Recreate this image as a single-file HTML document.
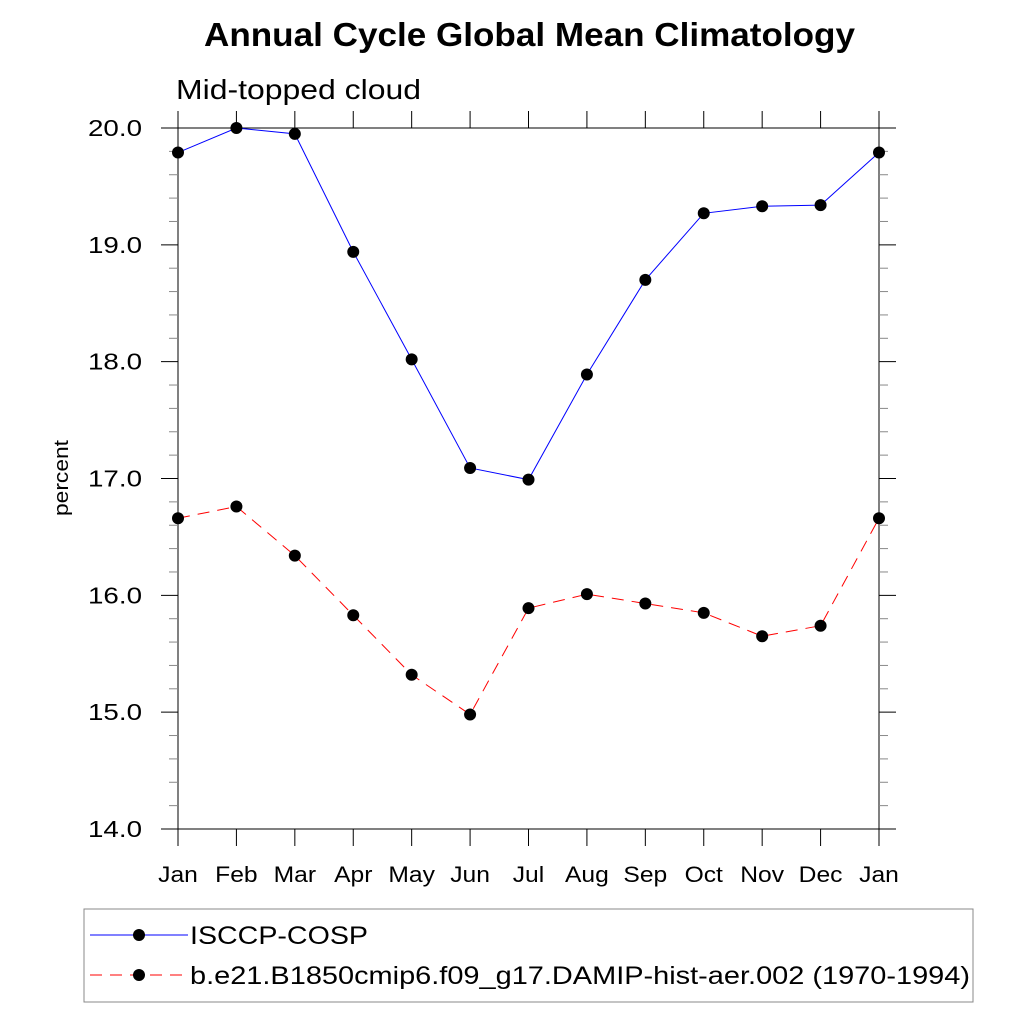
<!DOCTYPE html>
<html><head><meta charset="utf-8"><style>body{margin:0;background:#fff}svg{display:block}text{font-family:"Liberation Sans",sans-serif}</style></head>
<body>
<svg id="c" width="1024" height="1024" xmlns="http://www.w3.org/2000/svg">
<text x="204" y="46" font-size="33" font-weight="bold" textLength="651" lengthAdjust="spacingAndGlyphs">Annual Cycle Global Mean Climatology</text>
<text x="176" y="99" font-size="28" textLength="245" lengthAdjust="spacingAndGlyphs">Mid-topped cloud</text>
<text transform="translate(68,478) rotate(-90)" font-size="20" text-anchor="middle" textLength="76" lengthAdjust="spacingAndGlyphs">percent</text>
<g id="axes"></g><g id="series"></g>
<g>
<rect x="84" y="909" width="889" height="93" fill="none" stroke="#888" stroke-width="1"/>
<line x1="90" y1="935" x2="188" y2="935" stroke="#0000ff" stroke-width="1"/>
<circle cx="139" cy="935" r="6" fill="#000"/>
<text x="190" y="944" font-size="25" textLength="178" lengthAdjust="spacingAndGlyphs">ISCCP-COSP</text>
<line x1="90" y1="975" x2="188" y2="975" stroke="#ff0000" stroke-width="1" stroke-dasharray="12,8"/>
<circle cx="139" cy="975" r="6" fill="#000"/>
<text x="190" y="984" font-size="25" textLength="780" lengthAdjust="spacingAndGlyphs">b.e21.B1850cmip6.f09_g17.DAMIP-hist-aer.002 (1970-1994)</text>
</g>
</svg>
<script>
const months=["Jan","Feb","Mar","Apr","May","Jun","Jul","Aug","Sep","Oct","Nov","Dec","Jan"];
const isccp=[19.79,20.0,19.95,18.94,18.02,17.09,16.99,17.89,18.70,19.27,19.33,19.34,19.79];
const model=[16.66,16.76,16.34,15.83,15.32,14.98,15.89,16.01,15.93,15.85,15.65,15.74,16.66];
const yTicks=[14,15,16,17,18,19,20];
const NS="http://www.w3.org/2000/svg";
const L=178,R=879,T=128,B=829,ymin=14,ymax=20;
const xs=i=>L+(R-L)*i/(months.length-1);
const ys=v=>B-(v-ymin)/(ymax-ymin)*(B-T);
function mk(tag,a,p){const e=document.createElementNS(NS,tag);for(const k in a)e.setAttribute(k,a[k]);p.appendChild(e);return e;}
const ax=document.getElementById('axes');
mk('rect',{x:L,y:T,width:R-L,height:B-T,fill:'none',stroke:'#000','stroke-width':1},ax);
for(let v=ymin;v<=ymax+1e-9;v+=0.2){const y=ys(v);const maj=Math.abs(v-Math.round(v))<1e-6;const len=maj?17:9;
 const c=maj?'#000':'#888';
 mk('line',{x1:L-len,y1:y,x2:L,y2:y,stroke:c},ax);mk('line',{x1:R,y1:y,x2:R+len,y2:y,stroke:c},ax);}
yTicks.forEach(v=>{const t=mk('text',{x:142,y:ys(v)+8,'font-size':23,'text-anchor':'end',textLength:54,lengthAdjust:'spacingAndGlyphs'},ax);t.textContent=v.toFixed(1);
 
 });
months.forEach((m,i)=>{const x=xs(i);
 mk('line',{x1:x,y1:T-17,x2:x,y2:T,stroke:'#000'},ax);mk('line',{x1:x,y1:B,x2:x,y2:B+17,stroke:'#000'},ax);
 const t=mk('text',{x:x,y:B+53,'font-size':22,'text-anchor':'middle',transform:`translate(${x},0) scale(1.12,1) translate(${-x},0)`},ax);t.textContent=m;
 
 });
const sg=document.getElementById('series');
function series(d,col,dash,name){const p=mk('polyline',{points:d.map((v,i)=>xs(i)+','+ys(v)).join(' '),fill:'none',stroke:col,'stroke-width':1,'stroke-dasharray':dash},sg);
 
 
 d.forEach((v,i)=>{const c=mk('circle',{cx:xs(i),cy:ys(v),r:6,fill:'#000'},sg);
 
 });}
series(isccp,'#0000ff','none','isccp');
series(model,'#ff0000','12,8','model');
</script>
</body></html>
